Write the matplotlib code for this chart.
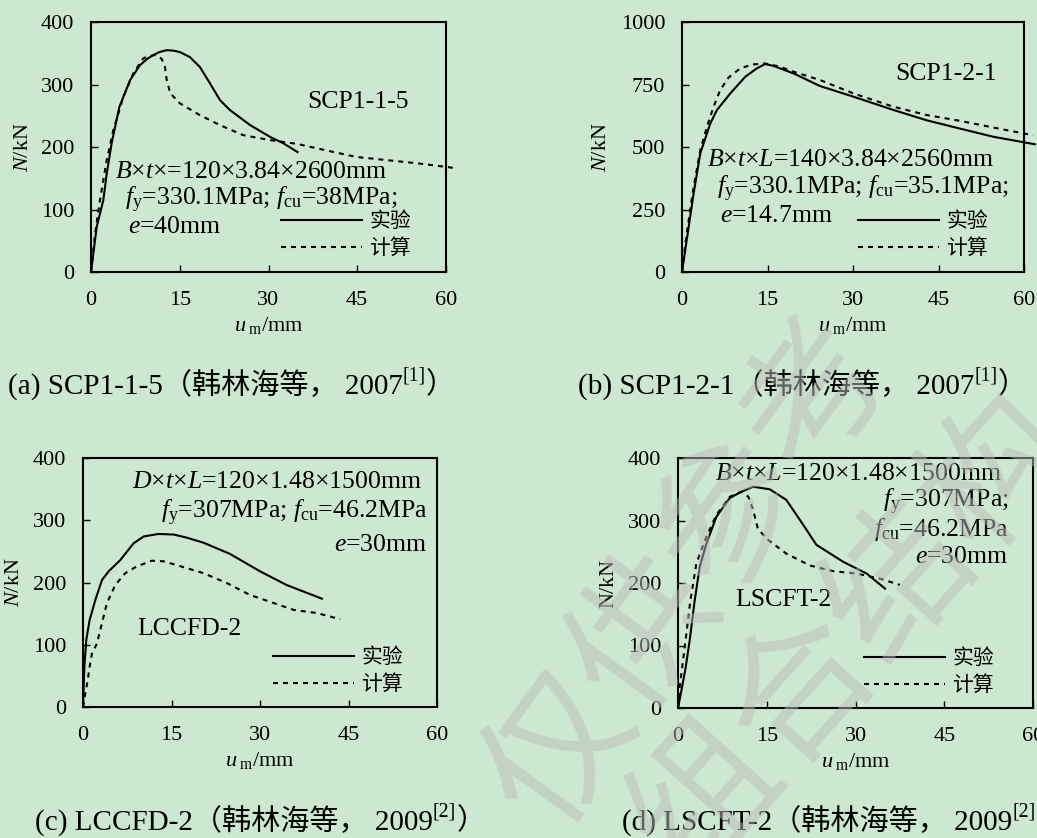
import matplotlib
matplotlib.use('Agg')
import matplotlib.pyplot as plt

plt.rcParams['font.family'] = ['Liberation Serif', 'Noto Sans CJK SC']
plt.rcParams['mathtext.fontset'] = 'custom'
plt.rcParams['mathtext.rm'] = 'Liberation Serif'
plt.rcParams['mathtext.it'] = 'Liberation Serif:italic'
plt.rcParams['mathtext.bf'] = 'Liberation Serif:bold'

BG = '#cde8d0'

# (a) SCP1-1-5
a_u_exp = [0, 0.96, 2.08, 2.65, 3.49, 4.79, 6.6, 8.28, 9.5, 10.5, 11.6, 12.8, 14.0, 15.0, 16.7, 18.4, 20.1, 21.8, 23.5, 26.9, 30.3, 32.5, 34.9]
a_N_exp = [0, 72, 115, 157, 206, 264, 307, 331, 341, 347, 352, 355, 354, 352, 344, 328, 302, 275, 259, 235, 216, 206, 192]
a_u_cal = [0, 0.68, 1.52, 2.65, 3.78, 5.46, 7.15, 8.85, 10.0, 10.8, 11.5, 12.0, 12.5, 12.8, 13.4, 15.0, 18.4, 21.8, 25.7, 30.3, 34.8, 41.0, 44.9, 50.0, 55.1, 61.8]
a_N_cal = [0, 61, 115, 179, 227, 280, 318, 342, 346, 347, 345, 340, 328, 307, 286, 270, 251, 235, 219, 211, 205, 192, 184, 179, 174, 166]

# (b) SCP1-2-1
b_u_exp = [0, 1.17, 2.04, 3.2, 4.96, 6.13, 8.46, 11.1, 13.1, 14.6, 16.1, 19.6, 24.2, 30.1, 37.1, 42.9, 48.7, 54.6, 61.9]
b_N_exp = [0, 180, 314, 474, 594, 648, 714, 781, 814, 832, 824, 794, 744, 701, 648, 607, 574, 541, 511]
b_u_cal = [0, 0.58, 1.17, 2.04, 3.2, 4.38, 5.54, 6.71, 8.17, 10.2, 12.3, 14.6, 17.2, 19.6, 24.2, 30.1, 37.1, 42.9, 48.7, 54.6, 61.6]
b_N_cal = [0, 113, 207, 340, 487, 581, 661, 728, 778, 814, 830, 834, 821, 801, 768, 714, 661, 628, 605, 578, 547]

# (c) LCCFD-2
c_u_exp = [0, 0.23, 0.56, 1.13, 2.09, 3.22, 4.35, 6.32, 8.58, 10.3, 12.8, 15.4, 17.6, 20.4, 24.9, 30.0, 34.5, 40.5]
c_N_exp = [0, 65, 108, 140, 172, 204, 218, 236, 263, 274, 278, 277, 272, 264, 246, 218, 196, 174]
c_u_cal = [0, 0.4, 0.79, 1.13, 1.52, 2.37, 3.22, 4.06, 5.47, 7.17, 9.14, 11.7, 13.7, 17.6, 20.4, 24.4, 28.3, 31.7, 35.7, 39.6, 43.6]
c_N_cal = [0, 22, 43, 65, 86, 102, 135, 167, 196, 215, 226, 235, 234, 223, 215, 199, 180, 169, 156, 151, 141]

# (d) LSCFT-2
d_u_exp = [0, 0.56, 1.3, 1.97, 2.82, 3.67, 4.8, 6.49, 8.75, 10.7, 12.7, 15.5, 18.3, 20.6, 23.4, 27.9, 31.9, 35.0]
d_N_exp = [0, 27, 65, 108, 172, 226, 263, 306, 336, 346, 354, 350, 333, 301, 261, 234, 215, 191]
d_u_cal = [0, 0.28, 0.85, 1.41, 2.09, 3.1, 4.8, 6.49, 8.75, 10.7, 11.9, 12.7, 13.5, 14.96, 18.3, 22.3, 26.2, 30.2, 34.1, 37.5]
d_N_cal = [0, 33, 76, 118, 172, 231, 274, 309, 338, 346, 338, 317, 287, 271, 247, 228, 219, 215, 207, 197]

legend_labels = ['实验', '计算']
xticks = [0, 15, 30, 45, 60]

fig = plt.figure(figsize=(10.37, 8.38), dpi=100)
fig.patch.set_facecolor(BG)

W, H = 1037, 838
def axes_px(l, r, t, b):
    return fig.add_axes([l / W, 1 - b / H, (r - l) / W, (b - t) / H])

ax_a = axes_px(91, 446, 22, 272)
ax_b = axes_px(682, 1024, 22, 272)
ax_c = axes_px(83, 437, 458, 707)
ax_d = axes_px(678, 1033, 458, 708)

panels = [
    (ax_a, a_u_exp, a_N_exp, a_u_cal, a_N_cal, 400, 100, r'$N$/kN', -0.163, (0.535, 0.144), False),
    (ax_b, b_u_exp, b_N_exp, b_u_cal, b_N_cal, 1000, 250, r'$N$/kN', -0.208, (0.514, 0.144), False),
    (ax_c, c_u_exp, c_N_exp, c_u_cal, c_N_cal, 400, 100, r'$N$/kN', -0.167, (0.536, 0.141), True),
    (ax_d, d_u_exp, d_N_exp, d_u_cal, d_N_cal, 400, 100, 'N/kN', -0.169, (0.524, 0.141), True),
]

for ax, ue, Ne, uc, Nc, ymax, ystep, ylab, ylx, legpos, clip in panels:
    ax.set_facecolor('none')
    ax.plot(ue, Ne, color='black', lw=1.5, label=legend_labels[0], clip_on=clip)
    ax.plot(uc, Nc, color='black', lw=1.5, ls=(0, (2.4, 2.4)), label=legend_labels[1], clip_on=clip)
    ax.set_xlim(0, 60)
    ax.set_ylim(0, ymax)
    ax.set_xticks(xticks)
    ax.set_yticks(list(range(0, ymax + 1, ystep)))
    ax.tick_params(direction='in', length=5, width=1, labelsize=16, colors='black')
    ax.tick_params(axis='x', pad=14)
    ax.tick_params(axis='y', pad=12)
    for s in ax.spines.values():
        s.set_linewidth(1.5)
    ax.set_ylabel(ylab, fontsize=16)
    ax.yaxis.set_label_coords(ylx, 0.5)
    ax.set_xlabel(r'$u_{\ \mathrm{m}}$/mm', fontsize=16, va='center')
    ax.xaxis.set_label_coords(0.5, -0.213)
    ax.legend(loc='center left', bbox_to_anchor=legpos, frameon=False, fontsize=15,
              handlelength=3.9, handletextpad=0.35, labelspacing=0.35,
              borderpad=0, borderaxespad=0)

fs = 18.5
# (a) annotations
ax_a.text(36.5, 272, 'SCP1-1-5', fontsize=fs, va='center')
ax_a.text(4.06, 160, r'$B$×$t$×=120×3.84×2600mm', fontsize=fs, va='center')
ax_a.text(5.75, 116, r'$f_{\mathrm{y}}$=330.1MPa; $f_{\mathrm{cu}}$=38MPa;', fontsize=fs, va='center')
ax_a.text(6.3, 72, r'$e$=40mm', fontsize=fs, va='center')

# (b)
ax_b.text(37.4, 792, 'SCP1-2-1', fontsize=fs, va='center')
ax_b.text(4.38, 447, r'$B$×$t$×$L$=140×3.84×2560mm', fontsize=fs, va='center')
ax_b.text(6.13, 334, r'$f_{\mathrm{y}}$=330.1MPa; $f_{\mathrm{cu}}$=35.1MPa;', fontsize=fs, va='center')
ax_b.text(6.71, 223, r'$e$=14.7mm', fontsize=fs, va='center')

# (c)
ax_c.text(57.4, 362, r'$D$×$t$×$L$=120×1.48×1500mm', fontsize=fs, va='center', ha='right')
ax_c.text(58.4, 311, r'$f_{\mathrm{y}}$=307MPa; $f_{\mathrm{cu}}$=46.2MPa', fontsize=fs, va='center', ha='right')
ax_c.text(58.4, 260, r'$e$=30mm', fontsize=fs, va='center', ha='right')
ax_c.text(9.14, 126, 'LCCFD-2', fontsize=fs, va='center')

# (d)
ax_d.text(54.7, 375, r'$B$×$t$×$L$=120×1.48×1500mm', fontsize=fs, va='center', ha='right')
ax_d.text(55.9, 330, r'$f_{\mathrm{y}}$=307MPa;', fontsize=fs, va='center', ha='right')
ax_d.text(55.9, 286, r'$f_{\mathrm{cu}}$=46.2MPa', fontsize=fs, va='center', ha='right')
ax_d.text(55.9, 242, r'$e$=30mm', fontsize=fs, va='center', ha='right')
ax_d.text(9.6, 172, 'LSCFT-2', fontsize=fs, va='center')

# captions
captions = [
    (8, 385, '(a) SCP1-1-5（韩林海等， 2007', '[1]'),
    (578, 385, '(b) SCP1-2-1（韩林海等， 2007', '[1]'),
    (35, 821, '(c) LCCFD-2（韩林海等， 2009', '[2]'),
    (622, 821, '(d) LSCFT-2（韩林海等， 2009', '[2]'),
]
cfs = 21
for x, y, main, sup in captions:
    t1 = fig.text(x / W, 1 - y / H, main, fontsize=cfs, va='center', ha='left')
    t2 = ax_a.annotate(sup, xy=(1, 0.78), xycoords=t1, fontsize=cfs * 0.68,
                       va='center', ha='left', annotation_clip=False)
    ax_a.annotate('）', xy=(1, 0.5), xycoords=(t2, t1), fontsize=cfs,
                  va='center', ha='left', annotation_clip=False)

# watermark
fig.text(690 / W, 1 - 575 / H, '仅供参考', fontsize=105, rotation=54, color='#bcbcbc',
         alpha=0.5, ha='center', va='center', family='Noto Sans CJK SC', zorder=10)
fig.text(852 / W, 1 - 635 / H, '组合结构', fontsize=105, rotation=48, color='#bcbcbc',
         alpha=0.5, ha='center', va='center', family='Noto Sans CJK SC', zorder=10)

fig.savefig('out.png', dpi=100, facecolor=BG)
